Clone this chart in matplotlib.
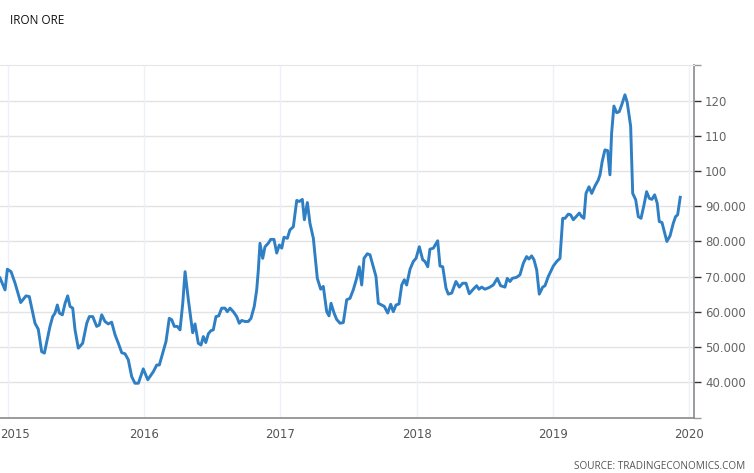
import numpy as np
import matplotlib
matplotlib.use('Agg')
import matplotlib.pyplot as plt
from matplotlib.transforms import ScaledTranslation

# Iron ore price (weekly-ish readings, decimal year)
anni = [2014.941, 2014.978, 2014.995, 2015.022, 2015.051, 2015.093, 2015.132, 2015.156,
        2015.198, 2015.222, 2015.247, 2015.267, 2015.308, 2015.328, 2015.345, 2015.362,
        2015.377, 2015.399, 2015.419, 2015.438, 2015.455, 2015.475, 2015.492, 2015.516,
        2015.548, 2015.578, 2015.597, 2015.622, 2015.651, 2015.670, 2015.688, 2015.712,
        2015.736, 2015.761, 2015.786, 2015.810, 2015.835, 2015.859, 2015.883, 2015.908,
        2015.932, 2015.957, 2015.993, 2016.026, 2016.067, 2016.092, 2016.111, 2016.136,
        2016.160, 2016.184, 2016.202, 2016.221, 2016.243, 2016.263, 2016.283, 2016.300,
        2016.324, 2016.356, 2016.373, 2016.397, 2016.417, 2016.434, 2016.452, 2016.471,
        2016.490, 2016.507, 2016.527, 2016.547, 2016.569, 2016.593, 2016.610, 2016.630,
        2016.654, 2016.679, 2016.698, 2016.716, 2016.740, 2016.764, 2016.784, 2016.808,
        2016.826, 2016.838, 2016.850, 2016.870, 2016.887, 2016.911, 2016.929, 2016.953,
        2016.973, 2016.992, 2017.010, 2017.026, 2017.051, 2017.070, 2017.095, 2017.120,
        2017.139, 2017.161, 2017.176, 2017.198, 2017.217, 2017.242, 2017.271, 2017.296,
        2017.315, 2017.340, 2017.357, 2017.372, 2017.394, 2017.413, 2017.438, 2017.462,
        2017.487, 2017.511, 2017.535, 2017.560, 2017.579, 2017.597, 2017.614, 2017.638,
        2017.658, 2017.682, 2017.702, 2017.719, 2017.744, 2017.763, 2017.788, 2017.810,
        2017.829, 2017.849, 2017.871, 2017.891, 2017.910, 2017.927, 2017.952, 2017.976,
        2017.996, 2018.020, 2018.045, 2018.062, 2018.082, 2018.098, 2018.123, 2018.155,
        2018.172, 2018.192, 2018.216, 2018.233, 2018.258, 2018.289, 2018.314, 2018.338,
        2018.363, 2018.387, 2018.416, 2018.441, 2018.458, 2018.478, 2018.502, 2018.534,
        2018.563, 2018.593, 2018.617, 2018.649, 2018.666, 2018.686, 2018.703, 2018.735,
        2018.759, 2018.784, 2018.808, 2018.825, 2018.845, 2018.862, 2018.882, 2018.901,
        2018.926, 2018.943, 2018.967, 2019.004, 2019.029, 2019.053, 2019.073, 2019.090,
        2019.114, 2019.131, 2019.151, 2019.176, 2019.195, 2019.212, 2019.229, 2019.244,
        2019.266, 2019.286, 2019.310, 2019.334, 2019.347, 2019.363, 2019.383, 2019.403,
        2019.420, 2019.432, 2019.449, 2019.469, 2019.488, 2019.506, 2019.530, 2019.547,
        2019.572, 2019.587, 2019.609, 2019.628, 2019.648, 2019.670, 2019.689, 2019.709,
        2019.728, 2019.748, 2019.767, 2019.782, 2019.802, 2019.819, 2019.838, 2019.861,
        2019.885, 2019.902, 2019.917, 2019.936]

prezzo = [69.6, 66.2, 72.1, 71.4, 68.2, 62.6, 64.5, 64.3,
          56.7, 55.0, 48.6, 48.2, 55.8, 58.6, 59.6, 61.9,
          59.6, 59.1, 62.4, 64.5, 61.5, 61.0, 54.8, 49.6,
          51.0, 56.7, 58.6, 58.6, 55.8, 56.2, 59.1, 57.2,
          56.5, 57.0, 53.4, 51.0, 48.3, 48.0, 46.3, 41.5,
          39.6, 39.6, 43.7, 40.6, 42.9, 44.8, 44.8, 48.2,
          51.5, 58.1, 57.7, 55.8, 55.8, 54.8, 62.4, 71.4,
          63.4, 54.0, 56.5, 51.0, 50.5, 52.9, 51.2, 53.7,
          54.6, 54.8, 58.6, 58.8, 61.0, 61.0, 60.0, 61.0,
          60.0, 58.6, 56.7, 57.5, 57.2, 57.2, 58.1, 61.5,
          66.2, 71.9, 79.5, 75.2, 78.5, 79.5, 80.6, 80.6,
          76.7, 79.0, 78.1, 81.2, 80.9, 83.3, 84.2, 91.7,
          91.4, 92.0, 86.2, 91.1, 85.2, 80.9, 69.5, 66.4,
          67.2, 60.0, 58.8, 62.4, 59.6, 57.8, 56.7, 56.9,
          63.4, 63.8, 66.2, 69.5, 72.8, 67.6, 75.2, 76.5,
          76.2, 72.8, 70.0, 62.4, 61.9, 61.5, 59.6, 62.1,
          60.0, 61.9, 62.2, 67.6, 69.1, 67.6, 72.1, 74.3,
          75.2, 78.5, 74.8, 74.3, 72.8, 77.8, 78.1, 80.2,
          73.0, 72.8, 66.7, 65.0, 65.3, 68.6, 67.0, 68.1,
          68.1, 65.1, 66.4, 67.4, 66.4, 67.0, 66.4, 66.9,
          67.6, 69.5, 67.4, 67.0, 69.5, 68.6, 69.5, 69.8,
          70.5, 73.8, 75.7, 75.0, 75.9, 74.8, 71.9, 65.0,
          67.0, 67.4, 70.0, 73.0, 74.3, 75.2, 86.6, 86.6,
          87.8, 87.6, 86.2, 87.3, 88.1, 87.1, 86.6, 93.7,
          95.6, 93.7, 95.8, 97.5, 99.0, 102.8, 106.1, 105.9,
          99.0, 110.8, 118.6, 116.7, 117.0, 118.9, 121.8, 119.6,
          112.8, 93.7, 91.9, 87.1, 86.6, 90.4, 94.2, 92.3,
          92.0, 93.3, 90.9, 85.7, 85.4, 82.8, 80.0, 81.6,
          85.2, 87.1, 87.6, 92.6]

anni_tick = [2015, 2016, 2017, 2018, 2019, 2020]
valori_tick = [40, 50, 60, 70, 80, 90, 100, 110, 120]
etichette_tick = ['40.000', '50.000', '60.000', '70.000', '80.000', '90.000', '100', '110', '120']

fig = plt.figure(figsize=(7.54, 4.73), dpi=100)
ax = fig.add_axes([0.0, 0.1163, 0.9204, 0.7463])

ax.plot(anni, prezzo, color='#2e7fc4', linewidth=2.1, solid_joinstyle='round', zorder=3)

ax.set_xlim(2014.941, 2020.037)
ax.set_ylim(29.7, 130.3)

# griglia
for v in valori_tick:
    ax.axhline(v, color='#e3e3e3', linewidth=1.0, zorder=1)
for a in anni_tick:
    ax.axvline(a, color='#edf1f6', linewidth=1.0, zorder=1)

ax.set_xticks(anni_tick)
ax.set_xticklabels([str(a) for a in anni_tick], color='#555555', fontsize=8.5, family='DejaVu Sans')
ax.tick_params(axis='x', length=0, pad=7)
# la prima etichetta sta attaccata al bordo sinistro
primo = ax.get_xticklabels()[0]
primo.set_horizontalalignment('left')
primo.set_transform(primo.get_transform() + ScaledTranslation(-8 / 100, 0, fig.dpi_scale_trans))

ax.yaxis.tick_right()
ax.set_yticks(valori_tick)
ax.set_yticklabels(etichette_tick, color='#666666', fontsize=8.5, family='DejaVu Sans')
ax.set_yticks([29.7, 130.3], minor=True)
ax.tick_params(axis='y', which='major', length=5, width=1, color='#333333', pad=3)
ax.tick_params(axis='y', which='minor', length=5, width=1, color='#999999')

ax.spines['left'].set_visible(False)
ax.spines['top'].set_color('#e6e6e6')
ax.spines['right'].set_color('#8a8a8a')
ax.spines['right'].set_linewidth(1.2)
ax.spines['bottom'].set_color('#8a8a8a')
ax.spines['bottom'].set_linewidth(1.2)

fig.text(10 / 754, 1 - 20 / 473, 'IRON ORE', fontsize=8.5, color='#111111',
         family='Open Sans', va='center', ha='left')
fig.text(745 / 754, 1 - 466 / 473, 'SOURCE: TRADINGECONOMICS.COM', fontsize=7.2,
         color='#555555', family='Open Sans', va='center', ha='right')

fig.savefig('out.png', dpi=100)
